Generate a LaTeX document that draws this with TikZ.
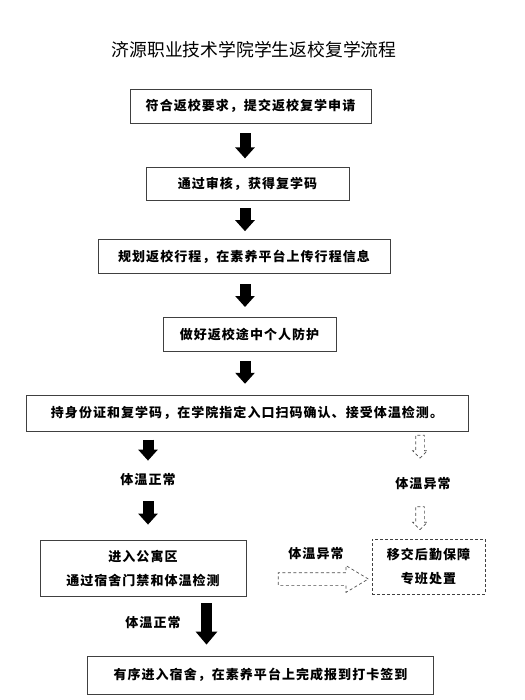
\documentclass[tikz,border=0pt]{standalone}
\usepackage{fontspec}
\newfontfamily\cjk{Noto Sans CJK SC}
\newfontfamily\cjkbox{Noto Sans CJK SC}[LetterSpace=8]
\usetikzlibrary{arrows.meta,positioning,calc,shapes.arrows}

\begin{document}
\begin{tikzpicture}[x=1pt,y=-1pt,>=Stealth]
  \tikzset{stage/.style={draw=black!75,line width=.8pt,inner sep=0pt,align=center,font=\cjkbox\bfseries\fontsize{13pt}{24pt}\selectfont},
    note/.style={inner sep=1pt,font=\cjkbox\bfseries\fontsize{13pt}{16pt}\selectfont},
    bigarrow/.style={line width=11pt,-{Triangle[length=11pt,width=19pt]}},
    hollow/.style={draw=black!70,dash pattern=on 3pt off 2.5pt,line width=.7pt,single arrow,inner sep=4pt,single arrow head extend=3pt,minimum height=23pt,shape border rotate=270}}
  \useasboundingbox (0,0) rectangle (524,700);
  \node[font=\cjk\fontsize{17.8pt}{20pt}\selectfont] (title) at (254,50) {济源职业技术学院学生返校复学流程};
  \node[stage,minimum width=241pt,minimum height=34pt] (b1) at (250.5,106) {符合返校要求，提交返校复学申请};
  \node[stage,minimum width=203pt,minimum height=33pt,below=44pt of b1,xshift=-3pt] (b2) {通过审核，获得复学码};
  \node[stage,minimum width=292pt,minimum height=34pt,below=38pt of b2,xshift=-3.5pt] (b3) {规划返校行程，在素养平台上传行程信息};
  \node[stage,minimum width=173pt,minimum height=34pt,below=43pt of b3,xshift=5.5pt] (b4) {做好返校途中个人防护};
  \node[stage,minimum width=442pt,minimum height=36pt,below=43pt of b4,xshift=-2.5pt] (b5) {持身份证和复学码，在学院指定入口扫码确认、接受体温检测。};
  \node[note] (ok1) at (148,480) {体温正常};
  \node[note] (bad1) at (423,484) {体温异常};
  \node[stage,minimum width=206pt,minimum height=56pt] (b6) at (143,568) {进入公寓区\\通过宿舍门禁和体温检测};
  \node[stage,dash pattern=on 3pt off 2pt,minimum width=113pt,minimum height=55pt] (b7) at (428.5,566.5) {移交后勤保障\\专班处置};
  \node[note] (bad2) at (316,554) {体温异常};
  \node[note] (ok2) at (153,623) {体温正常};
  \node[stage,minimum width=346pt,minimum height=38pt] (b8) at (260.5,675) {有序进入宿舍，在素养平台上完成报到打卡签到};
  % main spine
  \coordinate (spine) at (245,0);
  \draw[bigarrow,shorten <=10pt,shorten >=9pt] (b1.south -| spine) -- (b2.north -| spine);
  \draw[bigarrow,shorten <=7pt,shorten >=8pt] (b2.south -| spine) -- (b3.north -| spine);
  \draw[bigarrow,shorten <=10pt,shorten >=10pt] (b3.south -| spine) -- (b4.north -| spine);
  \draw[bigarrow,shorten <=9pt,shorten >=11pt] (b4.south -| spine) -- (b5.north -| spine);
  % normal temperature
  \draw[bigarrow,shorten <=8pt,shorten >=12pt] (b5.south -| ok1) -- (ok1.north);
  \draw[bigarrow,shorten <=14pt,shorten >=15pt] (ok1.south) -- (b6.north -| ok1);
  % abnormal temperature
  \node[hollow] (d1) at (420,444.5) {};
  \node[hollow] (d2) at (420,516) {};
  \node[hollow,minimum height=90pt,inner sep=6pt,single arrow head extend=7pt,single arrow tip angle=62,shape border rotate=0] (d3) at (318,579) {};
  \coordinate (drop) at (206.5,0);
  \draw[line width=11pt,-{Triangle[length=13pt,width=21pt]},shorten <=7pt,shorten >=11pt] (b6.south -| drop) -- (b8.north -| drop);
\end{tikzpicture}
\end{document}
